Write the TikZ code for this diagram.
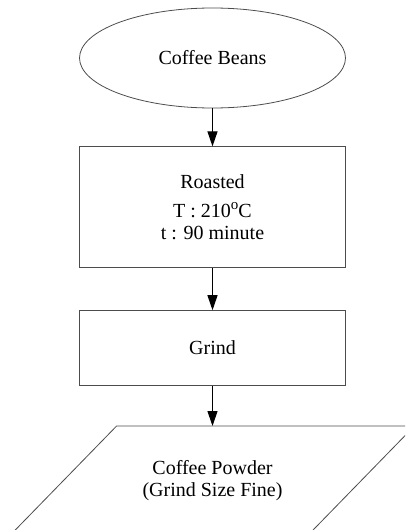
\documentclass[tikz,border=0pt]{standalone}
\usepackage{fontspec}
\setmainfont{Liberation Serif}
\usetikzlibrary{positioning,arrows.meta,shapes.geometric}

\begin{document}
\begin{tikzpicture}[node distance=40pt,
      flow/.style={draw=black!70,line width=0.8pt,align=center,font=\fontsize{20}{22}\selectfont,inner sep=0pt},
      oval/.style={flow,ellipse,minimum width=266pt,minimum height=100pt},
      proc/.style={flow,rectangle,minimum width=266pt},
      link/.style={-{Triangle[length=15pt,width=10pt]},line width=1.1pt}]
    \clip (0,0) rectangle (405pt,-530pt);
    \node[oval] (beans) at (212.5pt,-58pt) {Coffee Beans};
    \node[proc,minimum height=121pt,below=38pt of beans] (roast) {Roasted\\[7pt] T : 210\raisebox{8.5pt}{\fontsize{15}{15}\selectfont o}C\\ t : 90 minute};
    \node[proc,minimum height=75pt,below=42pt of roast] (grind) {Grind};
    \node[flow,draw=none,minimum width=297pt,minimum height=108pt,below=40pt of grind] (powder) {Coffee Powder\\ (Grind Size Fine)};
    \draw[black!70,line width=0.8pt] ([xshift=53pt]powder.north west) -- ([xshift=53pt]powder.north east)
      -- ([xshift=-53pt]powder.south east) -- ([xshift=-53pt]powder.south west) -- cycle;
    \draw[link] (beans) -- (roast);
    \draw[link] (roast) -- (grind);
    \draw[link] (grind) -- (powder);
  \end{tikzpicture}
\end{document}
